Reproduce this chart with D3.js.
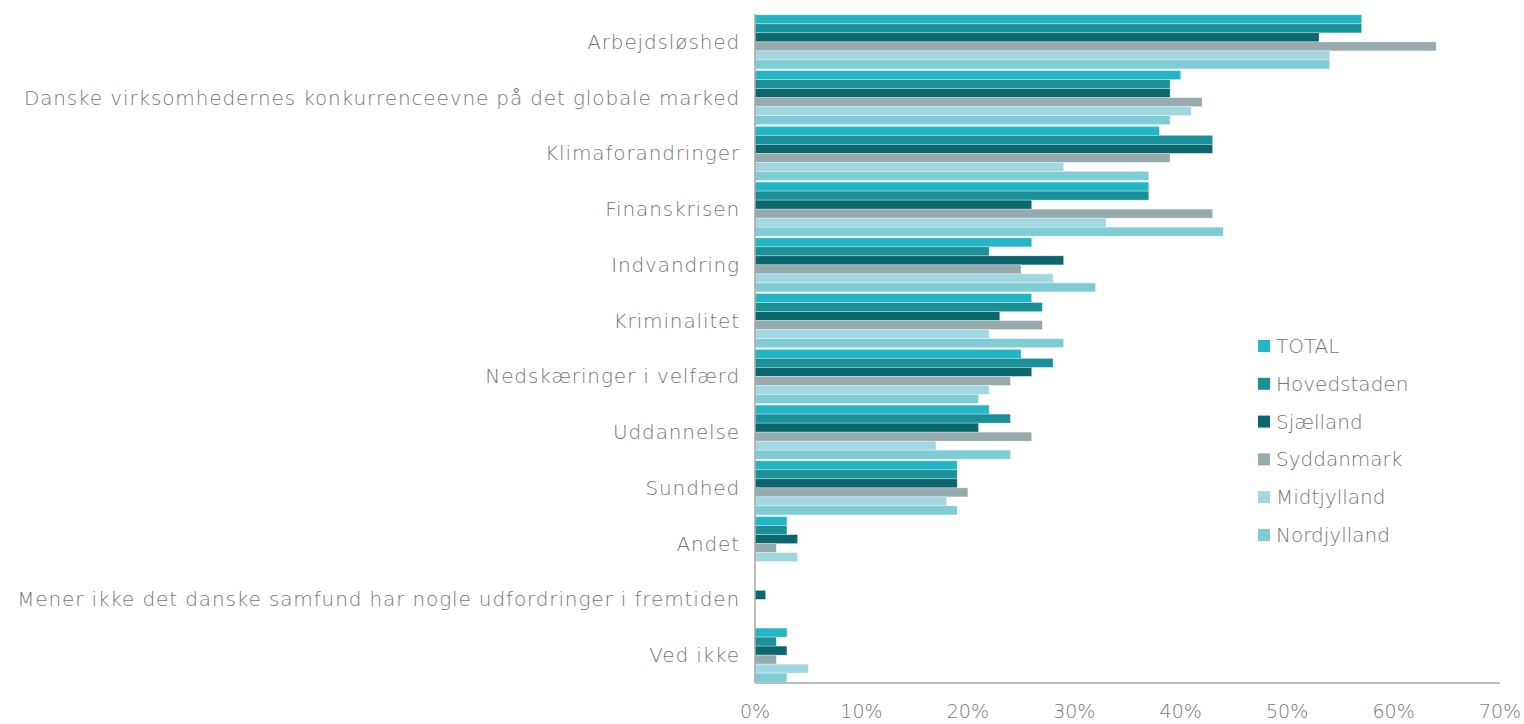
<!DOCTYPE html>
<html>
<head>
<meta charset="utf-8">
<script src="https://cdn.jsdelivr.net/npm/d3@7"></script>
<style>
  body { margin: 0; background: #fff; }
  svg text { font-family: "DejaVu Sans", sans-serif; font-weight: 200; fill: #767676; }
</style>
</head>
<body>
<svg id="chart" width="1524" height="724"></svg>
<script>
// categories, top to bottom
const categories = [
    "Arbejdsløshed",
    "Danske virksomhedernes konkurrenceevne på det globale marked",
    "Klimaforandringer",
    "Finanskrisen",
    "Indvandring",
    "Kriminalitet",
    "Nedskæringer i velfærd",
    "Uddannelse",
    "Sundhed",
    "Andet",
    "Mener ikke det danske samfund har nogle udfordringer i fremtiden",
    "Ved ikke"
];

const seriesNames = ["TOTAL", "Hovedstaden", "Sjælland", "Syddanmark", "Midtjylland", "Nordjylland"];
const seriesColors = ["#23b7c6", "#1a9099", "#0b666d", "#97aaad", "#a3d7df", "#7ecdd6"];

// percent values per series, same order as categories
const total       = [57, 40, 38, 37, 26, 26, 25, 22, 19, 3, 0, 3];
const hovedstaden = [57, 39, 43, 37, 22, 27, 28, 24, 19, 3, 0, 2];
const sjaelland   = [53, 39, 43, 26, 29, 23, 26, 21, 19, 4, 1, 3];
const syddanmark  = [64, 42, 39, 43, 25, 27, 24, 26, 20, 2, 0, 2];
const midtjylland = [54, 41, 29, 33, 28, 22, 22, 17, 18, 4, 0, 5];
const nordjylland = [54, 39, 37, 44, 32, 29, 21, 24, 19, 0, 0, 3];

const xTicks = [0, 10, 20, 30, 40, 50, 60, 70];

const seriesValues = [total, hovedstaden, sjaelland, syddanmark, midtjylland, nordjylland];

const svg = d3.select("#chart");
const plot = {left: 755, right: 1500, top: 14, bottom: 683};

const x = d3.scaleLinear().domain([0, 70]).range([plot.left, plot.right]);
const y = d3.scaleBand().domain(categories).range([plot.top, plot.bottom]).paddingInner(0.03).paddingOuter(0.015);
const ySub = d3.scaleBand().domain(seriesNames).range([0, y.bandwidth()]);

// bars
const groups = svg.append("g")
    .selectAll("g")
    .data(categories)
    .join("g")
    .attr("transform", d => "translate(0," + y(d) + ")");

groups.selectAll("rect")
    .data((c, i) => seriesNames.map((s, j) => ({s: s, j: j, v: seriesValues[j][i]})))
    .join("rect")
    .filter(d => d.v > 0)
    .attr("x", x(0))
    .attr("y", d => ySub(d.s))
    .attr("width", d => x(d.v) - x(0))
    .attr("height", ySub.bandwidth())
    .attr("fill", d => seriesColors[d.j])
    .attr("stroke", "#ffffff")
    .attr("stroke-opacity", 0.5)
    .attr("stroke-width", 0.6);

// axes lines
svg.append("line")
    .attr("x1", plot.left).attr("x2", plot.left)
    .attr("y1", plot.top).attr("y2", plot.bottom)
    .attr("stroke", "#a6a6a6").attr("stroke-width", 1.5);
svg.append("line")
    .attr("x1", plot.left).attr("x2", plot.right)
    .attr("y1", plot.bottom).attr("y2", plot.bottom)
    .attr("stroke", "#a6a6a6").attr("stroke-width", 1.5);

// category labels
const catLabels = svg.append("g")
    .selectAll("text")
    .data(categories)
    .join("text")
    .attr("x", 740)
    .attr("y", d => y(d) + y.bandwidth() / 2)
    .attr("dy", "0.35em")
    .attr("text-anchor", "end")
    .style("font-size", "20px")
    .text(d => d);

// widen the labels slightly, without letting the two long ones pass the left edge
function spacingFor(i, target) {
    const node = catLabels.filter((d, k) => k === i).node();
    return (target - node.getComputedTextLength()) / (categories[i].length - 1);
}
const ls = Math.max(0, Math.min(spacingFor(1, 730), spacingFor(10, 722)));
catLabels.style("letter-spacing", ls + "px");

// x tick labels
svg.append("g")
    .selectAll("text")
    .data(xTicks)
    .join("text")
    .attr("x", d => x(d))
    .attr("y", 711)
    .attr("dy", "0.35em")
    .attr("text-anchor", "middle")
    .style("font-size", "19px")
    .text(d => d + "%");

// legend
const legend = svg.append("g")
    .selectAll("g")
    .data(seriesNames)
    .join("g")
    .attr("transform", (d, i) => "translate(1258," + (346 + i * 37.8) + ")");

legend.append("rect")
    .attr("x", 0).attr("y", -6)
    .attr("width", 12).attr("height", 12)
    .attr("fill", (d, i) => seriesColors[i]);

legend.append("text")
    .attr("x", 18)
    .attr("dy", "0.35em")
    .style("font-size", "20px")
    .text(d => d);
</script>
</body>
</html>
